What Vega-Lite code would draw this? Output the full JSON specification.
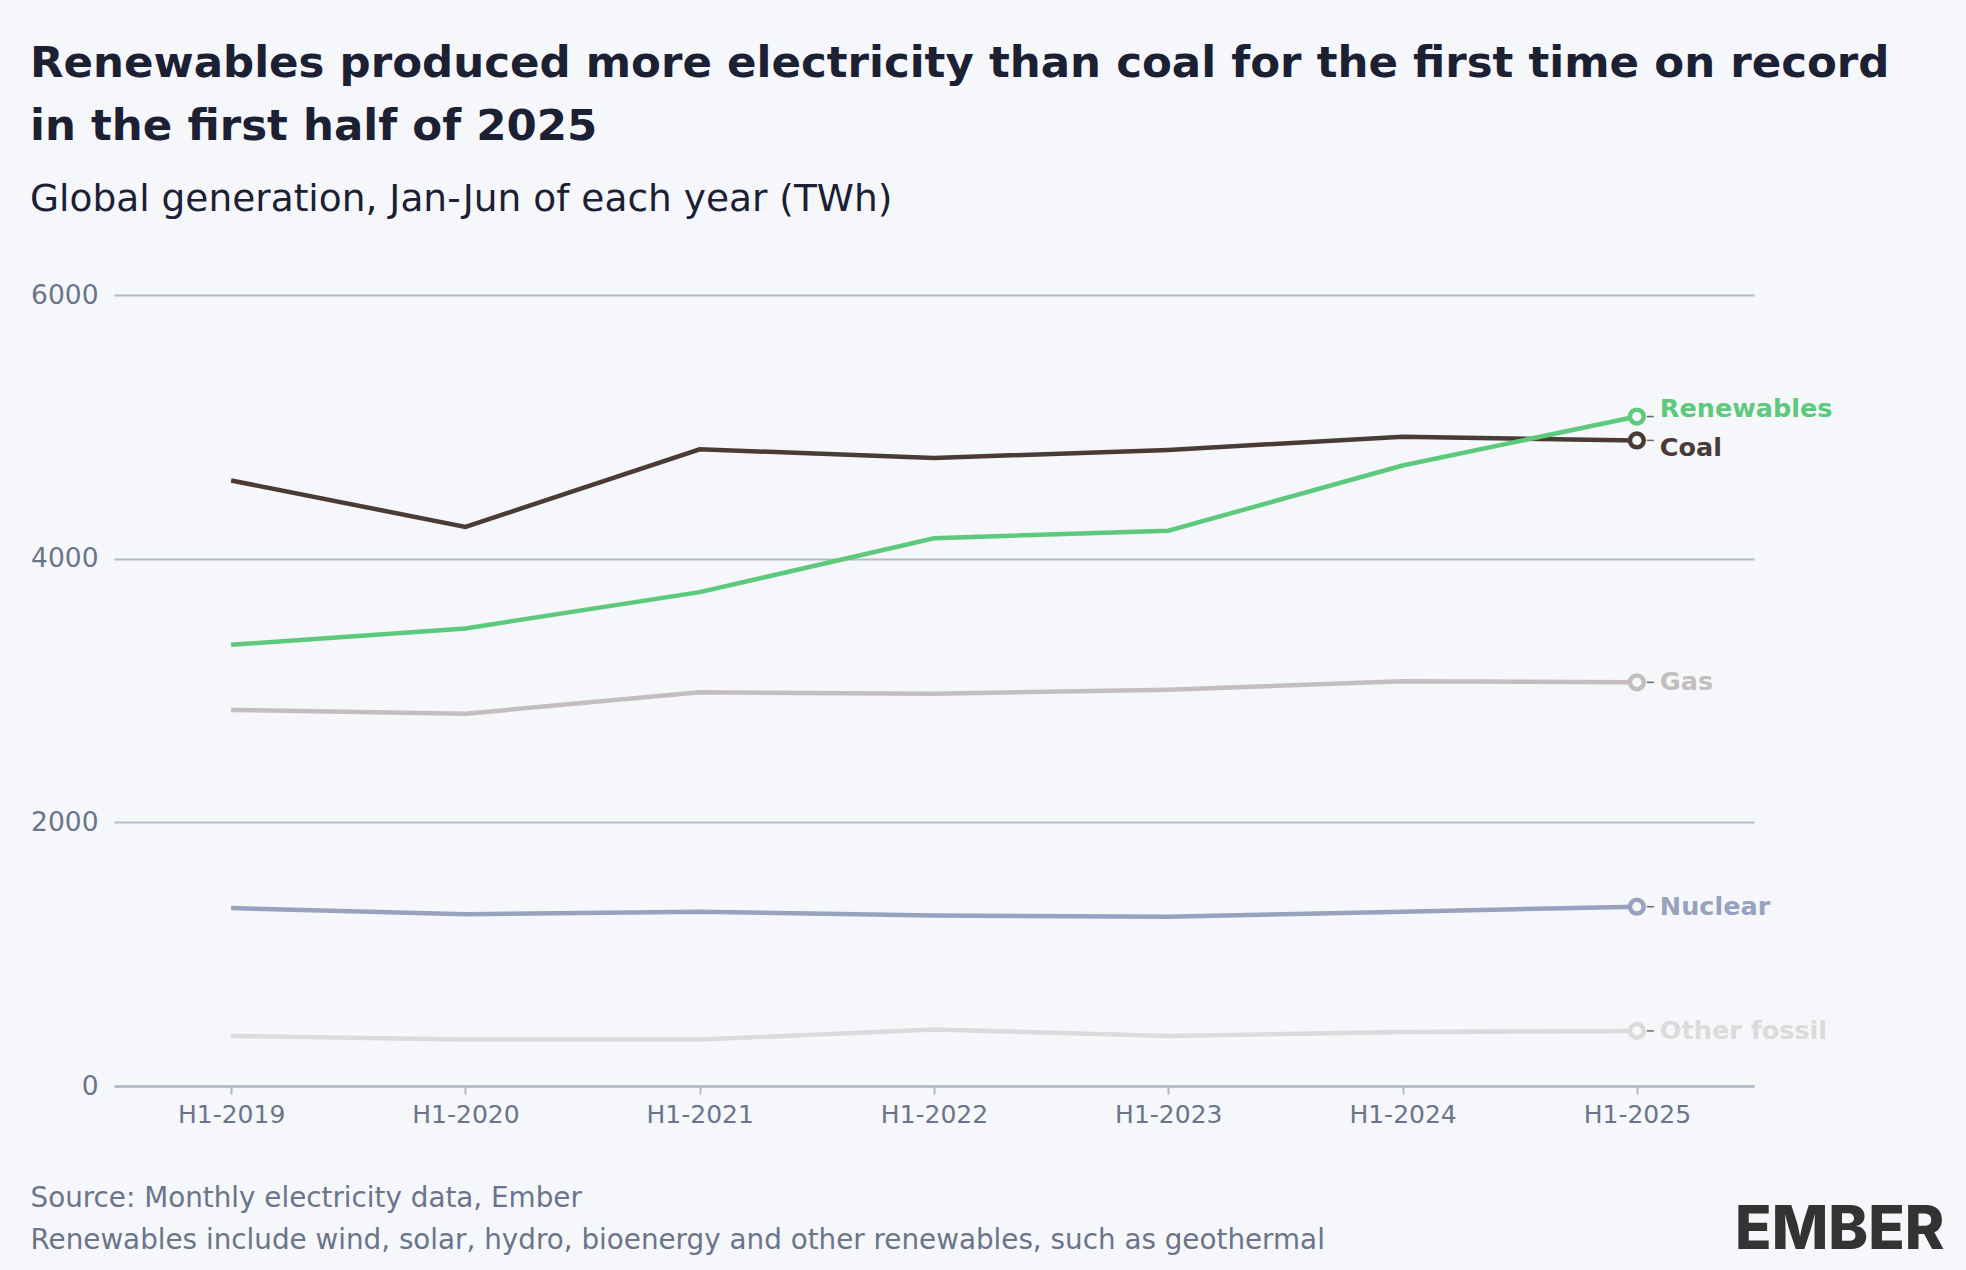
{
  "$schema": "https://vega.github.io/schema/vega-lite/v6.json",
  "autosize": {"type": "none"},
  "width": 1640,
  "height": 791,
  "padding": {"left": 114, "top": 295, "right": 212, "bottom": 184},
  "background": "#f5f7fb",
  "config": {"view": {"stroke": null}, "font": "DejaVu Sans"},
  "title": {
    "text": ["Renewables produced more electricity than coal for the first time on record", "in the first half of 2025"],
    "subtitle": "Global generation, Jan-Jun of each year (TWh)",
    "anchor": "start",
    "frame": "group",
    "dx": -84,
    "font": "DejaVu Sans",
    "fontSize": 43.5,
    "fontWeight": 700,
    "color": "#1c2033",
    "lineHeight": 63,
    "subtitleFont": "DejaVu Sans",
    "subtitleFontSize": 37.5,
    "subtitleColor": "#1c2033",
    "subtitlePadding": 31,
    "offset": 63
  },
  "data": {
    "values": [
      {"period": "H1-2019", "source": "Coal", "value": 4593},
      {"period": "H1-2020", "source": "Coal", "value": 4241},
      {"period": "H1-2021", "source": "Coal", "value": 4830},
      {"period": "H1-2022", "source": "Coal", "value": 4764},
      {"period": "H1-2023", "source": "Coal", "value": 4825},
      {"period": "H1-2024", "source": "Coal", "value": 4925},
      {"period": "H1-2025", "source": "Coal", "value": 4897},
      {"period": "H1-2019", "source": "Renewables", "value": 3347},
      {"period": "H1-2020", "source": "Renewables", "value": 3471},
      {"period": "H1-2021", "source": "Renewables", "value": 3746},
      {"period": "H1-2022", "source": "Renewables", "value": 4155},
      {"period": "H1-2023", "source": "Renewables", "value": 4212},
      {"period": "H1-2024", "source": "Renewables", "value": 4707},
      {"period": "H1-2025", "source": "Renewables", "value": 5078},
      {"period": "H1-2019", "source": "Gas", "value": 2853},
      {"period": "H1-2020", "source": "Gas", "value": 2824},
      {"period": "H1-2021", "source": "Gas", "value": 2986},
      {"period": "H1-2022", "source": "Gas", "value": 2976},
      {"period": "H1-2023", "source": "Gas", "value": 3005},
      {"period": "H1-2024", "source": "Gas", "value": 3071},
      {"period": "H1-2025", "source": "Gas", "value": 3062},
      {"period": "H1-2019", "source": "Nuclear", "value": 1350},
      {"period": "H1-2020", "source": "Nuclear", "value": 1303},
      {"period": "H1-2021", "source": "Nuclear", "value": 1322},
      {"period": "H1-2022", "source": "Nuclear", "value": 1293},
      {"period": "H1-2023", "source": "Nuclear", "value": 1284},
      {"period": "H1-2024", "source": "Nuclear", "value": 1322},
      {"period": "H1-2025", "source": "Nuclear", "value": 1360},
      {"period": "H1-2019", "source": "Other fossil", "value": 380},
      {"period": "H1-2020", "source": "Other fossil", "value": 352},
      {"period": "H1-2021", "source": "Other fossil", "value": 352},
      {"period": "H1-2022", "source": "Other fossil", "value": 428},
      {"period": "H1-2023", "source": "Other fossil", "value": 380},
      {"period": "H1-2024", "source": "Other fossil", "value": 409},
      {"period": "H1-2025", "source": "Other fossil", "value": 418}
    ]
  },
  "encoding": {
    "x": {
      "field": "period",
      "type": "ordinal",
      "sort": null,
      "scale": {"type": "point", "padding": 0.5},
      "axis": {
        "labelAngle": 0,
        "labelFontSize": 25,
        "labelColor": "#6b7489",
        "labelPadding": 8,
        "tickSize": 8,
        "tickColor": "#b4b9c6",
        "tickWidth": 2,
        "domainColor": "#b4b9c6",
        "domainWidth": 2.5,
        "grid": false,
        "title": ["Source: Monthly electricity data, Ember", "Renewables include wind, solar, hydro, bioenergy and other renewables, such as geothermal"],
        "titleAnchor": "start",
        "titleAlign": "left",
        "titleX": -84,
        "titleY": 120,
        "titleBaseline": "alphabetic",
        "titleLineHeight": 42,
        "titleFontSize": 27.8,
        "titleFontWeight": 400,
        "titleColor": "#6b7489"
      }
    },
    "y": {
      "field": "value",
      "type": "quantitative",
      "scale": {"domain": [0, 6000], "nice": false},
      "axis": {
        "values": [0, 2000, 4000, 6000],
        "format": "d",
        "grid": true,
        "gridColor": "#b4b9c6",
        "gridWidth": 2,
        "domain": false,
        "ticks": false,
        "labelPadding": 16,
        "labelFontSize": 26.5,
        "labelColor": "#6b7489",
        "title": "EMBER",
        "titleFont": "Inter",
        "titleAngle": 0,
        "titleX": 1830,
        "titleY": 953,
        "titleAlign": "right",
        "titleBaseline": "alphabetic",
        "titleFontSize": 60,
        "titleFontWeight": 800,
        "titleColor": "#333333"
      }
    }
  },
  "layer": [
    {
      "mark": {"type": "line", "strokeWidth": 4.5},
      "encoding": {
        "color": {
          "field": "source",
          "type": "nominal",
          "scale": {"domain": ["Coal", "Renewables", "Gas", "Nuclear", "Other fossil"], "range": ["#4a3b36", "#5dc97d", "#c4bdbd", "#98a2bf", "#dcdada"]},
          "legend": null
        }
      }
    },
    {
      "transform": [{"filter": "datum.period == 'H1-2025'"}],
      "mark": {"type": "rule", "xOffset": 10, "x2Offset": 17, "strokeWidth": 1.5, "color": "#666666"},
      "encoding": {
        "x2": {"field": "period"}
      }
    },
    {
      "transform": [{"filter": "datum.period == 'H1-2025'"}],
      "mark": {"type": "point", "shape": "circle", "size": 190, "strokeWidth": 4.5, "fill": "#f5f7fb", "filled": false, "opacity": 1},
      "encoding": {
        "stroke": {
          "field": "source",
          "type": "nominal",
          "scale": {"domain": ["Coal", "Renewables", "Gas", "Nuclear", "Other fossil"], "range": ["#4a3b36", "#5dc97d", "#c4bdbd", "#98a2bf", "#dcdada"]},
          "legend": null
        }
      }
    },
    {
      "transform": [{"filter": "datum.period == 'H1-2025' && datum.source == 'Renewables'"}],
      "mark": {"type": "text", "align": "left", "baseline": "middle", "dx": 23, "dy": -8, "fontSize": 25.5, "fontWeight": 700},
      "encoding": {
        "text": {"field": "source"},
        "color": {"value": "#5dc97d"}
      }
    },
    {
      "transform": [{"filter": "datum.period == 'H1-2025' && datum.source == 'Coal'"}],
      "mark": {"type": "text", "align": "left", "baseline": "middle", "dx": 23, "dy": 8, "fontSize": 25.5, "fontWeight": 700},
      "encoding": {
        "text": {"field": "source"},
        "color": {"value": "#4a3b36"}
      }
    },
    {
      "transform": [{"filter": "datum.period == 'H1-2025' && datum.source != 'Coal' && datum.source != 'Renewables'"}],
      "mark": {"type": "text", "align": "left", "baseline": "middle", "dx": 23, "fontSize": 25.5, "fontWeight": 700},
      "encoding": {
        "text": {"field": "source"},
        "color": {
          "field": "source",
          "type": "nominal",
          "scale": {"domain": ["Coal", "Renewables", "Gas", "Nuclear", "Other fossil"], "range": ["#4a3b36", "#5dc97d", "#c4bdbd", "#98a2bf", "#dcdada"]},
          "legend": null
        }
      }
    }
  ]
}
